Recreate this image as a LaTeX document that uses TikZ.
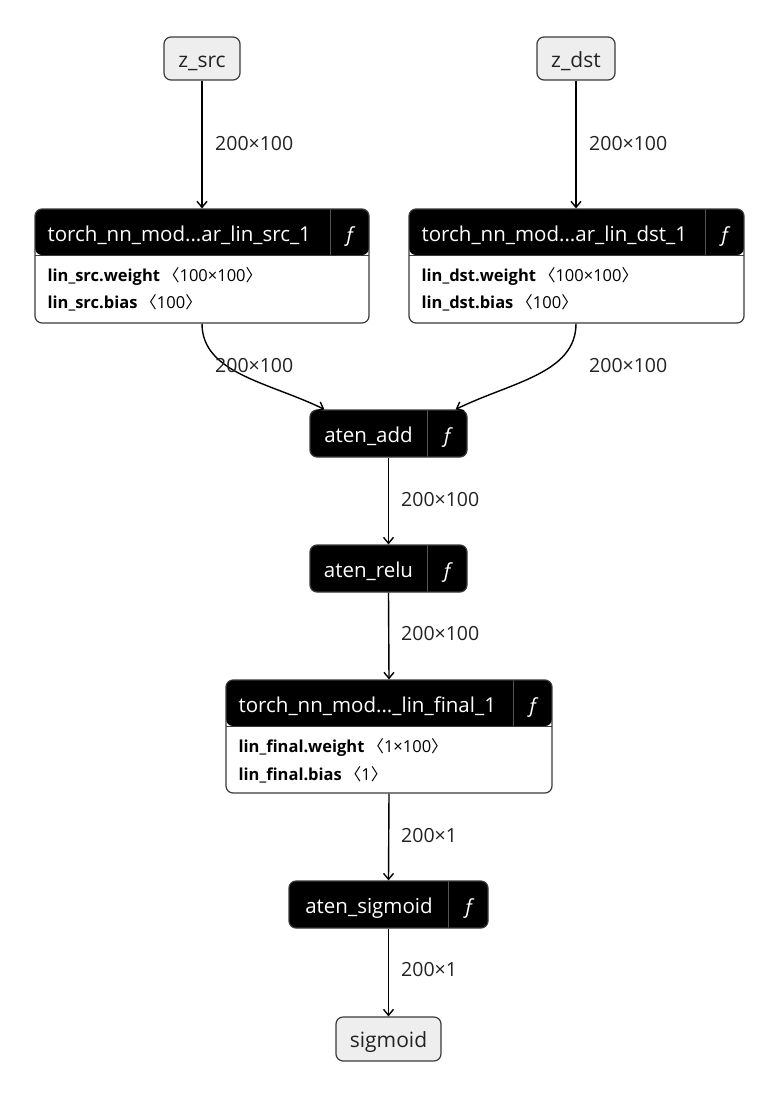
\documentclass[tikz,border=0pt]{standalone}
\usepackage{fontspec}
\setmainfont{Open Sans}
\newfontfamily\cjkf{Noto Sans CJK SC}
\usetikzlibrary{arrows.meta}
\definecolor{bordc}{HTML}{3A3A3A}
\definecolor{iofill}{HTML}{EEEEEE}
\definecolor{sepc}{HTML}{555555}
\definecolor{txtc}{HTML}{222222}
\newcommand{\lb}{\hspace{3pt}{\cjkf 〈}}
\newcommand{\rb}{{\cjkf 〉}}
\newcommand{\fsym}{{\itshape ƒ}}
\begin{document}
\begin{tikzpicture}[x=1pt,y=-1pt,
  iobox/.style={draw=bordc, fill=iofill, rounded corners=7pt, line width=1.2pt, inner sep=0pt,
    minimum height=43pt, text height=17pt, text depth=0pt, text=txtc, font=\fontsize{21}{24}\selectfont},
  modbox/.style={draw=bordc, fill=white, rounded corners=7pt, line width=1.2pt, inner sep=0pt,
    path picture={
      \fill[black] (path picture bounding box.north west) rectangle ([yshift=-46pt]path picture bounding box.north east);
      \draw[sepc, line width=1pt] ([xshift=-39pt]path picture bounding box.north east) -- ([xshift=-39pt,yshift=-46pt]path picture bounding box.north east);
      \draw[bordc, line width=0.8pt] ([yshift=-46pt]path picture bounding box.north west) -- ([yshift=-46pt]path picture bounding box.north east);
    }},
  fnbox/.style={draw=bordc, fill=black, rounded corners=7pt, line width=1.2pt, inner sep=0pt,
    minimum height=47pt,
    path picture={
      \draw[sepc, line width=1pt] ([xshift=-40pt]path picture bounding box.north east) -- ([xshift=-40pt]path picture bounding box.south east);
    }},
  hdr/.style={text=white, inner sep=0pt, anchor=base, font=\fontsize{20.5}{24}\selectfont},
  hdrl/.style={hdr, anchor=base west},
  bodyt/.style={text=black, inner sep=0pt, anchor=base west, font=\fontsize{16.5}{19}\selectfont},
  elab/.style={text=txtc, inner sep=0pt, anchor=west, font=\fontsize{19.5}{22}\selectfont},
  conn/.style={draw=black, line width=1.4pt, -{Straight Barb[length=6pt,width=10pt,line width=1.4pt]}}
]
\useasboundingbox (0,0) rectangle (780,1098);

% input nodes
\node[iobox, minimum width=76pt] (zsrc) at (202,58.5) {z\_src};
\node[iobox, minimum width=78pt] (zdst) at (576,58.5) {z\_dst};

% module src
\node[modbox, minimum width=334pt, minimum height=114pt] (msrc) at (202,266) {};
\node[hdrl] (msrct) at ([xshift=13pt,yshift=-33pt]msrc.north west) {torch\_nn\_mod...ar\_lin\_src\_1};
\node[hdr] (msrcf) at ([xshift=-19.5pt,yshift=-33pt]msrc.north east) {\fsym};
\node[bodyt] (msrcw) at ([xshift=13pt,yshift=-73pt]msrc.north west) {\textbf{lin\_src.weight}\lb100×100\rb};
\node[bodyt] (msrcb) at ([xshift=13pt,yshift=-100pt]msrc.north west) {\textbf{lin\_src.bias}\lb100\rb};

% module dst
\node[modbox, minimum width=335pt, minimum height=114pt] (mdst) at (576.5,266) {};
\node[hdrl] (mdstt) at ([xshift=13pt,yshift=-33pt]mdst.north west) {torch\_nn\_mod...ar\_lin\_dst\_1};
\node[hdr] (mdstf) at ([xshift=-19.5pt,yshift=-33pt]mdst.north east) {\fsym};
\node[bodyt] (mdstw) at ([xshift=13pt,yshift=-73pt]mdst.north west) {\textbf{lin\_dst.weight}\lb100×100\rb};
\node[bodyt] (mdstb) at ([xshift=13pt,yshift=-100pt]mdst.north west) {\textbf{lin\_dst.bias}\lb100\rb};

% aten_add
\node[fnbox, minimum width=157pt] (add) at (388.5,433.5) {};
\node[hdr] (addt) at ([xshift=-20pt,yshift=-33pt]add.north) {aten\_add};
\node[hdr] (addf) at ([xshift=-20pt,yshift=-33pt]add.north east) {\fsym};

% aten_relu
\node[fnbox, minimum width=157pt] (relu) at (388.5,568.5) {};
\node[hdr] (relut) at ([xshift=-20pt,yshift=-33pt]relu.north) {aten\_relu};
\node[hdr] (reluf) at ([xshift=-20pt,yshift=-33pt]relu.north east) {\fsym};

% module final
\node[modbox, minimum width=326pt, minimum height=113pt] (mfin) at (389,736.5) {};
\node[hdrl] (mfint) at ([xshift=13pt,yshift=-33pt]mfin.north west) {torch\_nn\_mod...\_lin\_final\_1};
\node[hdr] (mfinf) at ([xshift=-19.5pt,yshift=-33pt]mfin.north east) {\fsym};
\node[bodyt] (mfinw) at ([xshift=13pt,yshift=-73.5pt]mfin.north west) {\textbf{lin\_final.weight}\lb1×100\rb};
\node[bodyt] (mfinb) at ([xshift=13pt,yshift=-101pt]mfin.north west) {\textbf{lin\_final.bias}\lb1\rb};

% aten_sigmoid
\node[fnbox, minimum width=199pt] (sig) at (388.5,904.5) {};
\node[hdr] (sigt) at ([xshift=-19.5pt,yshift=-33pt]sig.north) {aten\_sigmoid};
\node[hdr] (sigf) at ([xshift=-19.5pt,yshift=-33pt]sig.north east) {\fsym};

% output
\node[iobox, minimum width=105pt, minimum height=44pt] (out) at (388.5,1039) {sigmoid};

% connectors
\draw[conn] (zsrc.south) -- (msrc.north);
\draw[conn] (zdst.south) -- (zdst.south |- mdst.north);
\draw[conn] (msrc.south) .. controls +(0,50) and +(-55,-27) .. ([xshift=15pt]add.north west);
\draw[conn] (mdst.south -| zdst.south) .. controls +(0,50) and +(55,-27) .. ([xshift=-12pt]add.north east);
\draw[conn] (add.south) -- (relu.north);
\draw[conn] (relu.south) -- (mfin.north);
\draw[conn] (mfin.south) -- (sig.north);
\draw[conn] (sig.south) -- (out.north);

% edge labels
\node[elab] (l1) at (215,144) {200×100};
\node[elab] (l2) at (589,144) {200×100};
\node[elab] (l3) at (215,366) {200×100};
\node[elab] (l4) at (589,366) {200×100};
\node[elab] (l5) at (401,500) {200×100};
\node[elab] (l6) at (401,634) {200×100};
\node[elab] (l7) at (401,836) {200×1};
\node[elab] (l8) at (401,970) {200×1};
\end{tikzpicture}
\end{document}
